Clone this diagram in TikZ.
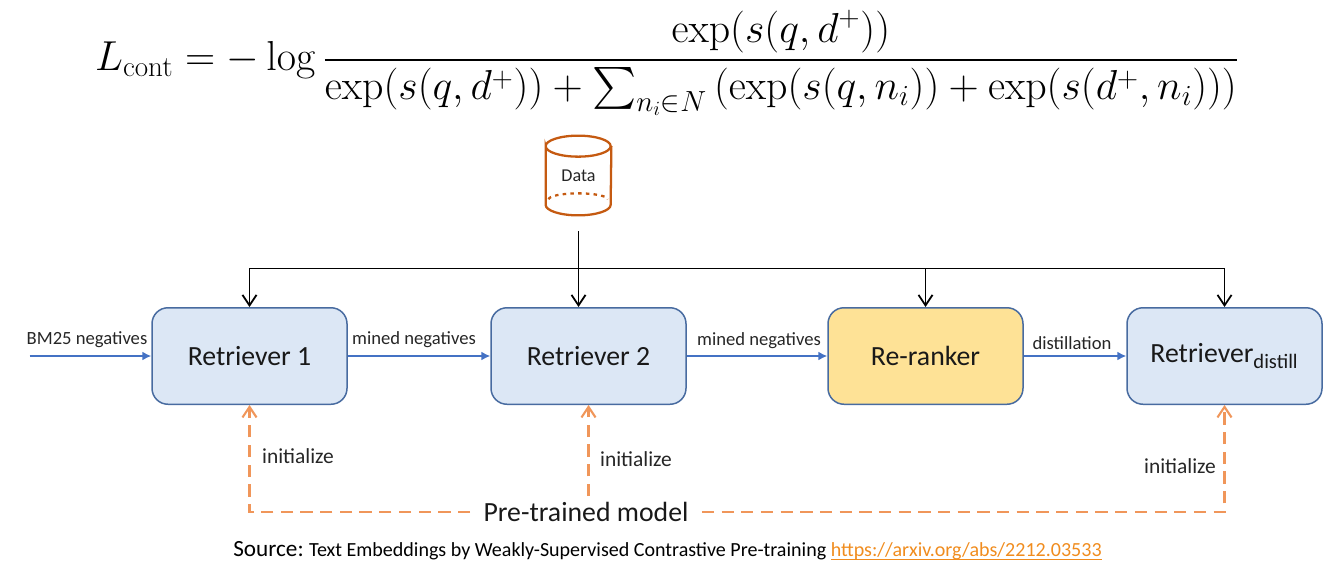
\documentclass[tikz,border=0pt]{standalone}
\usepackage{amsmath}
\usepackage[no-math]{fontspec}
\setmainfont{Carlito}
\usetikzlibrary{arrows.meta,positioning,calc}
\definecolor{boxblue}{RGB}{220,231,245}
\definecolor{boxedge}{RGB}{72,107,160}
\definecolor{boxyellow}{RGB}{254,226,150}
\definecolor{flowblue}{RGB}{68,114,196}
\definecolor{initorange}{RGB}{240,150,90}
\definecolor{dataorange}{RGB}{197,90,17}
\definecolor{linkorange}{RGB}{240,140,30}
\tikzstyle{block1} = [rectangle, draw=boxedge, line width=0.85pt, fill=boxblue, minimum width=3.9cm, minimum height=1.93cm, rounded corners=0.32cm, font=\fontsize{15.8}{18}\selectfont, text=black!90]
\tikzstyle{block2} = [block1, fill=boxyellow]
\tikzstyle{label1} = [font=\fontsize{10.6}{12}\selectfont, text=black!85]
\tikzstyle{label2} = [font=\fontsize{12.2}{14}\selectfont, text=black!85]
\tikzstyle{feed} = [draw=black, line width=1pt, -{Straight Barb[length=6pt,width=8pt]}]
\tikzstyle{flow} = [draw=flowblue, line width=0.9pt, -{Latex[length=5pt,width=5pt]}]
\tikzstyle{init} = [draw=initorange, line width=1.2pt, dash pattern=on 7pt off 4.2pt, -{Straight Barb[length=6pt,width=8pt]}]

\begin{document}
\begin{tikzpicture}
        \useasboundingbox (0,0) rectangle (26.8,11.36);

        \node[inner sep=0pt, scale=0.958, transform shape] (loss) at (13.34,10.1) {\fontsize{24}{28}\selectfont$\displaystyle L_{\mathrm{cont}} = -\log\frac{\exp(s(q,d^{+}))}{\exp(s(q,d^{+}))+\sum_{n_i\in N}\left(\exp(s(q,n_i))+\exp(s(d^{+},n_i))\right)}$};

        \node[block1] (r1) at (4.99,4.24) {Retriever 1};
        \node[block1, right of=r1, node distance=6.78cm] (r2) {Retriever 2};
        \node[block2, right of=r2, node distance=6.74cm] (rr) {Re-ranker};
        \node[block1, right of=rr, node distance=5.98cm] (rd) {Retriever\textsubscript{\fontsize{11.7}{13}\selectfont distill}};

        \node[above of=r2, node distance=3.61cm, xshift=-0.2cm, minimum width=1.3cm, minimum height=1.58cm, inner sep=0pt, font=\fontsize{10.3}{12}\selectfont, text=black!85] (data) {Data};
        \draw[dataorange, line width=1.3pt] ([yshift=-0.21cm]data.north west) arc (180:-180:0.65 and 0.21) -- ([yshift=0.21cm]data.south west) arc (180:360:0.65 and 0.21) -- ([yshift=-0.21cm]data.north east);
        \draw[dataorange, line width=1.3pt, dash pattern=on 2pt off 2.4pt] ([xshift=0.06cm,yshift=0.32cm]data.south west) arc (180:0:0.59 and 0.12);

        \coordinate[above of=r2, node distance=2.5cm, xshift=-0.2cm] (dataend);
        \coordinate[above of=r2, node distance=1.75cm, xshift=-0.2cm] (bus);
        \coordinate[left of=r1, node distance=4.4cm] (start);

        \draw[feed] (dataend) -- (dataend |- r2.north);
        \draw[feed] (bus) -| (r1.north);
        \draw[feed] (bus) -| (rd.north);
        \draw[feed] (bus -| rr.north) -- (rr.north);

        \draw[flow] (start) -- (r1);
        \draw[flow] (r1) -- (r2);
        \draw[flow] (r2) -- (rr);
        \draw[flow] (rr) -- (rd);

        \node[label1] (a1) at (1.74,4.56) {BM25 negatives};
        \node[label1] (a2) at (8.28,4.56) {mined negatives};
        \node[label1] (a3) at (15.18,4.54) {mined negatives};
        \node[label1] (a4) at (21.44,4.5) {distillation};

        \node[font=\fontsize{15.8}{18}\selectfont, text=black!90, inner xsep=0.26cm] (model) at (11.72,1.12) {Pre-trained model};
        \draw[init] (model.west) -| (r1.south);
        \draw[init] (model.north -| r2.south) -- (r2.south);
        \draw[init] (model.east) -| (rd.south);

        \node[label2] (i1) at (5.96,2.24) {initialize};
        \node[label2] (i2) at (12.72,2.18) {initialize};
        \node[label2] (i3) at (23.6,2.04) {initialize};

        \node[inner sep=0pt] (source) at (13.35,0.34) {{\fontsize{13.2}{15}\selectfont Source:} {\fontsize{11.4}{13}\selectfont Text Embeddings by Weakly-Supervised Contrastive Pre-training {\color{linkorange}\underline{\smash{https://arxiv.org/abs/2212.03533}}}}};
    \end{tikzpicture}
\end{document}
